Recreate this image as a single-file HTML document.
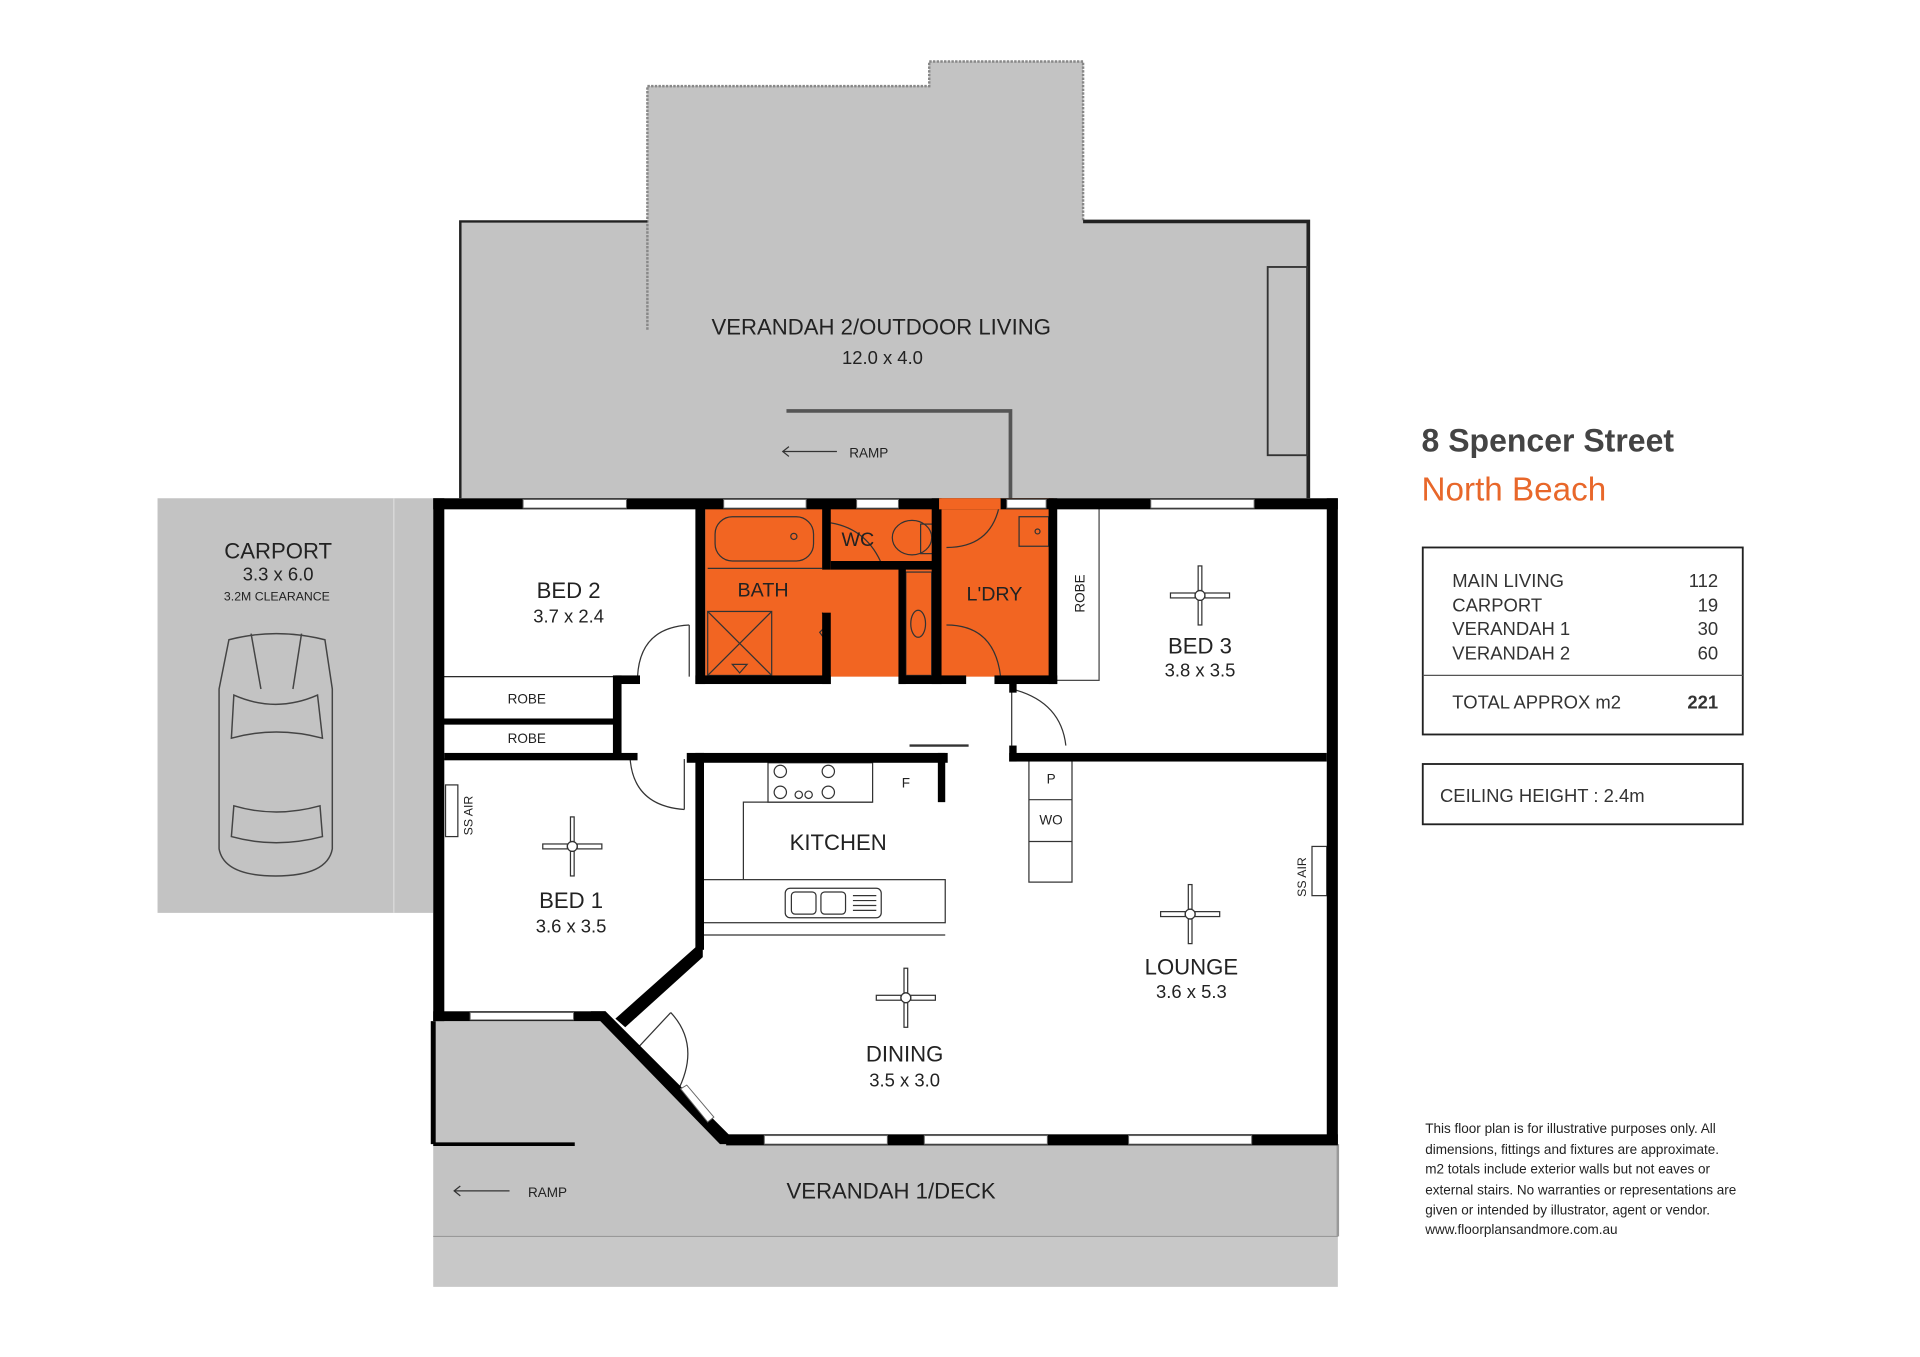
<!DOCTYPE html>
<html><head><meta charset="utf-8"><style>
html,body{margin:0;padding:0;background:#fff;width:1920px;height:1357px;overflow:hidden}
svg{display:block}
text{font-family:"Liberation Sans",sans-serif;fill:#222}
</style></head><body>
<svg width="1920" height="1357" viewBox="0 0 1560 1103" preserveAspectRatio="none">
<rect width="1560" height="1103" fill="#fff"/>
<!-- verandah 2 -->
<polygon points="526,70 755,70 755,50 880,50 880,180 1063,180 1063,405 374,405 374,180 526,180" fill="#c3c3c3"/>
<polyline points="526,268 526,70 755,70 755,50 880,50 880,180" fill="none" stroke="#888" stroke-width="2" stroke-dasharray="2,1"/>
<polyline points="374,405 374,180 526,180" fill="none" stroke="#222" stroke-width="2"/>
<polyline points="880,180 1063,180 1063,405" fill="none" stroke="#222" stroke-width="3"/>
<rect x="1030" y="217" width="32" height="153" fill="none" stroke="#333" stroke-width="1.5"/>
<polyline points="639,334 821,334 821,405" fill="none" stroke="#555" stroke-width="3"/>
<text x="716" y="272" font-size="18" text-anchor="middle">VERANDAH 2/OUTDOOR LIVING</text>
<text x="717" y="296" font-size="15" text-anchor="middle">12.0 x 4.0</text>
<line x1="636" y1="367" x2="680" y2="367" stroke="#333" stroke-width="1"/>
<polyline points="641,363 636,367 641,371" fill="none" stroke="#333"/>
<text x="690" y="372" font-size="11">RAMP</text>
<!-- carport -->
<rect x="128" y="405" width="224" height="337" fill="#c3c3c3"/>
<line x1="320" y1="405" x2="320" y2="742" stroke="#ddd" stroke-width="1"/>
<text x="226" y="454" font-size="18" text-anchor="middle">CARPORT</text>
<text x="226" y="472" font-size="15" text-anchor="middle">3.3 x 6.0</text>
<text x="225" y="488" font-size="10" text-anchor="middle">3.2M CLEARANCE</text>
<g fill="none" stroke="#444" stroke-width="1.2">
<path d="M186,520 Q224,510 264,520 L270,560 L270,690 Q266,712 224,712 Q182,712 178,690 L178,560 Z"/>
<path d="M190,565 Q224,580 258,565 L262,600 Q224,590 188,600 Z"/>
<path d="M190,655 Q224,665 260,655 L262,680 Q224,690 188,680 Z"/>
<line x1="204" y1="515" x2="212" y2="560"/><line x1="245" y1="515" x2="238" y2="560"/>
</g>
<!-- verandah 1 -->
<polygon points="352,830 490,830 590,930 1087,930 1087,1005 352,1005" fill="#c3c3c3"/>
<rect x="352" y="1005" width="735" height="41" fill="#c8c8c8"/>
<line x1="352" y1="1005" x2="1087" y2="1005" stroke="#999"/>
<line x1="1087" y1="930" x2="1087" y2="1005" stroke="#999" stroke-width="2"/>
<line x1="352" y1="830" x2="352" y2="930" stroke="#000" stroke-width="4"/>
<line x1="352" y1="930" x2="467" y2="930" stroke="#000" stroke-width="3"/>
<text x="724" y="974" font-size="18" text-anchor="middle">VERANDAH 1/DECK</text>
<line x1="369" y1="968" x2="414" y2="968" stroke="#333"/>
<polyline points="374,964 369,968 374,972" fill="none" stroke="#333"/>
<text x="429" y="973" font-size="11">RAMP</text>
<!-- house floor -->
<polygon points="352,405 1087,405 1087,930 590,930 490,830 352,830" fill="#fff"/>
<!-- orange wet areas -->
<rect x="573" y="413" width="190" height="137" fill="#f26522"/>
<rect x="763" y="405" width="93" height="145" fill="#f26522"/>
<!-- fixtures in wet areas -->
<g fill="none" stroke="#333" stroke-width="1">
<rect x="581" y="420" width="80" height="36" rx="14"/><circle cx="645" cy="436" r="2.5"/>
<line x1="575" y1="462" x2="668" y2="462"/>
<rect x="575" y="497" width="52" height="52"/><line x1="575" y1="497" x2="627" y2="549"/><line x1="627" y1="497" x2="575" y2="549"/>
<polygon points="595,540 607,540 601,547"/>
<ellipse cx="741" cy="437" rx="16" ry="14"/><rect x="748" y="426" width="10" height="24"/>
<rect x="736" y="465" width="21" height="84"/><ellipse cx="746" cy="507" rx="6" ry="11"/>
<rect x="828" y="420" width="24" height="24"/><circle cx="843" cy="432" r="2"/>
<path d="M675,425 Q705,430 717,460"/>
<path d="M769,445 Q808,445 813,405"/>
<path d="M769,508 Q808,508 813,550"/>
<polyline points="668,498 674,506 666,514 672,522"/>
</g>
<!-- bed3 robe -->
<rect x="858" y="413" width="35" height="140" fill="#fff" stroke="#444" stroke-width="1"/>
<text font-size="11" transform="translate(881,498) rotate(-90)">ROBE</text>
<!-- bedroom robes -->
<rect x="360" y="550" width="140" height="35" fill="#fff" stroke="#222"/>
<rect x="360" y="588" width="140" height="29" fill="#fff" stroke="#222"/>
<text x="428" y="572" font-size="11" text-anchor="middle">ROBE</text>
<text x="428" y="604" font-size="11" text-anchor="middle">ROBE</text>
<!-- kitchen -->
<g fill="none" stroke="#333" stroke-width="1">
<rect x="624" y="620" width="85" height="32"/>
<circle cx="634" cy="627" r="5"/><circle cx="634" cy="644" r="5"/><circle cx="673" cy="627" r="5"/><circle cx="673" cy="644" r="5"/>
<circle cx="649" cy="646" r="3"/><circle cx="657" cy="646" r="3"/>
<polyline points="604,715 604,652 709,652"/>
<rect x="570" y="715" width="198" height="35"/>
<line x1="570" y1="760" x2="768" y2="760"/>
<rect x="638" y="722" width="78" height="24" rx="4"/><rect x="643" y="725" width="20" height="18" rx="3"/><rect x="667" y="725" width="20" height="18" rx="3"/>
<line x1="693" y1="728" x2="712" y2="728"/><line x1="693" y1="732" x2="712" y2="732"/><line x1="693" y1="736" x2="712" y2="736"/><line x1="693" y1="740" x2="712" y2="740"/>
<rect x="836" y="618" width="35" height="99"/><line x1="836" y1="650" x2="871" y2="650"/><line x1="836" y1="684" x2="871" y2="684"/>
<rect x="362" y="638" width="10" height="42"/><rect x="1066" y="688" width="12" height="40"/>
<line x1="739" y1="606" x2="787" y2="606" stroke-width="2"/>
</g>
<text x="736" y="640" font-size="11" text-anchor="middle">F</text>
<text x="854" y="637" font-size="11" text-anchor="middle">P</text>
<text x="854" y="670" font-size="11" text-anchor="middle">WO</text>
<text font-size="10" transform="translate(384,679) rotate(-90)">SS AIR</text>
<text font-size="10" transform="translate(1061,729) rotate(-90)">SS AIR</text>
<!-- door arcs -->
<g fill="none" stroke="#333" stroke-width="1">
<path d="M560,508 Q520,510 518,550"/><line x1="560" y1="508" x2="560" y2="550"/>
<path d="M822,560 Q862,570 866,606"/><line x1="822" y1="562" x2="822" y2="606"/>
<path d="M512,617 Q515,655 556,658"/><line x1="556" y1="617" x2="556" y2="658"/>
<path d="M545,823 Q570,850 550,888"/><line x1="545" y1="823" x2="517" y2="853"/>
</g>
<!-- walls -->
<g fill="#000">
<rect x="352" y="405" width="735" height="9"/>
<rect x="1078" y="405" width="9" height="525"/>
<rect x="352" y="405" width="9" height="425"/>
<rect x="352" y="822" width="140" height="8"/>
<rect x="590" y="922" width="497" height="9"/>
<polygon points="480,822 492,822 600,930 585,930"/>
<polygon points="565,770 571,770 571,778 508,835 500,828"/>
<rect x="565" y="413" width="8" height="143"/>
<rect x="668" y="413" width="7" height="50"/><rect x="668" y="498" width="7" height="58"/>
<rect x="675" y="456" width="85" height="7"/>
<rect x="730" y="456" width="6" height="100"/>
<rect x="757" y="405" width="8" height="151"/>
<rect x="852" y="405" width="7" height="151"/>
<rect x="565" y="549" width="110" height="7"/><rect x="730" y="549" width="55" height="7"/><rect x="808" y="549" width="51" height="7"/>
<rect x="498" y="549" width="7" height="68"/>
<rect x="500" y="549" width="20" height="7"/>
<rect x="360" y="584" width="140" height="5"/>
<rect x="361" y="612" width="157" height="6"/>
<rect x="558" y="612" width="212" height="8"/>
<rect x="565" y="612" width="7" height="160"/>
<rect x="762" y="612" width="6" height="40"/>
<rect x="820" y="612" width="258" height="7"/>
<rect x="820" y="553" width="6" height="10"/><rect x="820" y="606" width="6" height="13"/>
</g>
<!-- windows -->
<g fill="#fff" stroke="#666" stroke-width="0.8">
<rect x="425" y="406" width="84" height="7"/><rect x="588" y="406" width="67" height="7"/>
<rect x="696" y="406" width="34" height="7"/><rect x="818" y="406" width="32" height="7"/>
<rect x="935" y="406" width="84" height="7"/>
<rect x="382" y="823" width="84" height="6"/>
<rect x="621" y="923" width="100" height="7"/><rect x="751" y="923" width="100" height="7"/><rect x="917" y="923" width="100" height="7"/>
<polygon points="553,885 558,882 580,908 575,912"/>
</g>
<rect x="763" y="405" width="50" height="9" fill="#f26522"/>
<!-- fans -->
<g fill="none" stroke="#333" stroke-width="1">
<g transform="translate(975,484)"><circle r="4"/><rect x="-24" y="-2" width="20" height="4"/><rect x="4" y="-2" width="20" height="4"/><rect x="-1.5" y="-24" width="3" height="20"/><rect x="-1.5" y="4" width="3" height="20"/></g>
<g transform="translate(465,688)"><circle r="4"/><rect x="-24" y="-2" width="20" height="4"/><rect x="4" y="-2" width="20" height="4"/><rect x="-1.5" y="-24" width="3" height="20"/><rect x="-1.5" y="4" width="3" height="20"/></g>
<g transform="translate(967,743)"><circle r="4"/><rect x="-24" y="-2" width="20" height="4"/><rect x="4" y="-2" width="20" height="4"/><rect x="-1.5" y="-24" width="3" height="20"/><rect x="-1.5" y="4" width="3" height="20"/></g>
<g transform="translate(736,811)"><circle r="4"/><rect x="-24" y="-2" width="20" height="4"/><rect x="4" y="-2" width="20" height="4"/><rect x="-1.5" y="-24" width="3" height="20"/><rect x="-1.5" y="4" width="3" height="20"/></g>
</g>
<!-- room labels -->
<g text-anchor="middle">
<text x="462" y="486" font-size="18">BED 2</text><text x="462" y="506" font-size="15">3.7 x 2.4</text>
<text x="620" y="485" font-size="16">BATH</text>
<text x="697" y="444" font-size="16">WC</text>
<text x="808" y="488" font-size="16">L'DRY</text>
<text x="975" y="531" font-size="18">BED 3</text><text x="975" y="550" font-size="15">3.8 x 3.5</text>
<text x="681" y="691" font-size="18">KITCHEN</text>
<text x="464" y="738" font-size="18">BED 1</text><text x="464" y="758" font-size="15">3.6 x 3.5</text>
<text x="968" y="792" font-size="18">LOUNGE</text><text x="968" y="811" font-size="15">3.6 x 5.3</text>
<text x="735" y="863" font-size="18">DINING</text><text x="735" y="883" font-size="15">3.5 x 3.0</text>
</g>
<!-- right panel -->
<text x="1155" y="367" font-size="26" font-weight="bold" style="fill:#444">8 Spencer Street</text>
<text x="1155" y="407" font-size="27" style="fill:#e8672a">North Beach</text>
<rect x="1156" y="445" width="260" height="152" fill="none" stroke="#222" stroke-width="1.5"/>
<line x1="1156" y1="549" x2="1416" y2="549" stroke="#555" stroke-width="1"/>
<g font-size="15" style="fill:#333">
<text x="1180" y="477" style="fill:#333">MAIN LIVING</text><text x="1396" y="477" text-anchor="end" style="fill:#333">112</text>
<text x="1180" y="497" style="fill:#333">CARPORT</text><text x="1396" y="497" text-anchor="end" style="fill:#333">19</text>
<text x="1180" y="516" style="fill:#333">VERANDAH 1</text><text x="1396" y="516" text-anchor="end" style="fill:#333">30</text>
<text x="1180" y="536" style="fill:#333">VERANDAH 2</text><text x="1396" y="536" text-anchor="end" style="fill:#333">60</text>
<text x="1180" y="576" style="fill:#333">TOTAL APPROX m2</text><text x="1396" y="576" text-anchor="end" font-weight="bold" style="fill:#333">221</text>
</g>
<rect x="1156" y="621" width="260" height="49" fill="none" stroke="#222" stroke-width="1.5"/>
<text x="1170" y="652" font-size="15" style="fill:#333">CEILING HEIGHT : 2.4m</text>
<g font-size="11">
<text x="1158" y="921">This floor plan is for illustrative purposes only. All</text>
<text x="1158" y="938">dimensions, fittings and fixtures are approximate.</text>
<text x="1158" y="954">m2 totals include exterior walls but not eaves or</text>
<text x="1158" y="971">external stairs. No warranties or representations are</text>
<text x="1158" y="987">given or intended by illustrator, agent or vendor.</text>
<text x="1158" y="1003">www.floorplansandmore.com.au</text>
</g>
</svg>
</body></html>
